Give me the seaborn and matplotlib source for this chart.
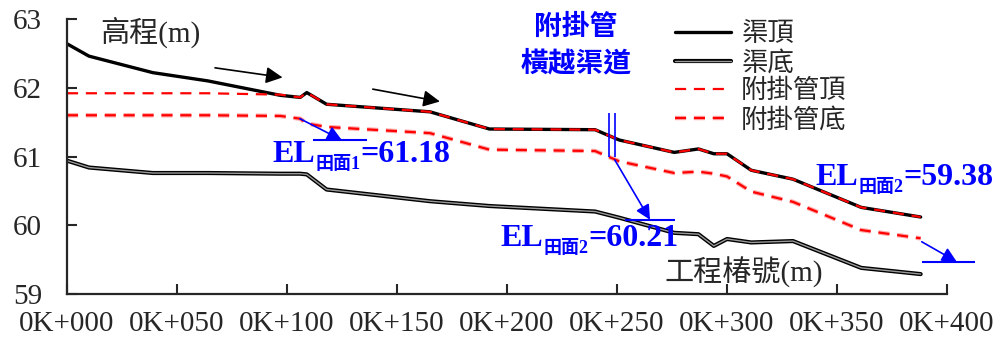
import matplotlib
matplotlib.use("Agg")
import matplotlib.pyplot as plt
import matplotlib.patheffects as pe
import seaborn as sns

# 樁號 (m) 與高程 (m)
station = [0, 10, 39, 64, 97, 106, 109, 118, 165, 192, 240, 251, 276, 287, 294, 300, 311, 330, 361, 388]
canal_top = [62.64, 62.46, 62.22, 62.10, 61.89, 61.86, 61.93, 61.76, 61.65, 61.40, 61.39, 61.24,
             61.06, 61.11, 61.04, 61.04, 60.80, 60.67, 60.26, 60.12]
canal_bottom = [60.94, 60.84, 60.76, 60.76, 60.75, 60.75, 60.74, 60.52, 60.35, 60.28, 60.20, 60.11,
                59.89, 59.87, 59.70, 59.80, 59.75, 59.77, 59.38, 59.29]
pipe_top = [61.92, 61.92, 61.92, 61.92, 61.90, 61.86, 61.93, 61.76, 61.65, 61.40, 61.39, 61.24,
            61.06, 61.11, 61.04, 61.04, 60.80, 60.67, 60.26, 60.12]
pipe_bottom = [61.60, 61.60, 61.60, 61.60, 61.59, 61.55, 61.48, 61.43, 61.34, 61.10, 61.08, 60.93,
               60.76, 60.78, 60.75, 60.71, 60.49, 60.34, 59.93, 59.81]

xticks = [0, 50, 100, 150, 200, 250, 300, 350, 400]
xtick_labels = ['0K+000', '0K+050', '0K+100', '0K+150', '0K+200', '0K+250', '0K+300', '0K+350', '0K+400']
yticks = [59, 60, 61, 62, 63]

sns.set_style('ticks')
plt.rcParams['font.family'] = ['Liberation Serif', 'Noto Sans CJK TC']

fig = plt.figure(figsize=(9.95, 3.47), dpi=100)
ax = fig.add_axes([0.0673, 0.1527, 0.8845, 0.7925])

# 渠頂、渠底
sns.lineplot(x=station, y=canal_top, color='black', lw=2.4, label='渠頂', ax=ax)
sns.lineplot(x=station, y=canal_bottom, color='#9a9a9a', lw=1.0, label='渠底', ax=ax,
             path_effects=[pe.Stroke(linewidth=3.0, foreground='black'), pe.Normal()])
# 附掛管
sns.lineplot(x=station, y=pipe_top, color='red', lw=1.6, linestyle=(0, (5, 3.5)),
             label='附掛管頂', ax=ax)
sns.lineplot(x=station, y=pipe_bottom, color='red', lw=1.6, linestyle=(0, (5, 3.5)),
             label='附掛管底', ax=ax,
             path_effects=[pe.Stroke(linewidth=3.2, foreground='#ffaaaa'), pe.Normal()])

ax.set_xlim(0, 400)
ax.set_ylim(59, 63)
ax.set_xticks(xticks)
ax.set_xticklabels(xtick_labels)
ax.set_yticks(yticks)
ax.set_xlabel('')
ax.set_ylabel('')
ax.tick_params(direction='in', length=7, width=1.5, labelsize=21)
ax.tick_params(axis='x', pad=12)
ax.tick_params(axis='y', pad=18)
for s in ['top', 'right']:
    ax.spines[s].set_visible(False)
for s in ['left', 'bottom']:
    ax.spines[s].set_linewidth(1.6)

ax.legend(loc='upper left', bbox_to_anchor=(0.679, 1.027), frameon=False, fontsize=19,
          handlelength=2.1, handletextpad=0.4, labelspacing=0.15, borderaxespad=0)

# 軸標題
ax.text(37.7, 62.81, '高程(m)', ha='center', va='center', fontsize=21)
ax.text(307.7, 59.32, '工程椿號(m)', ha='center', va='center', fontsize=21)

# 流向箭頭
ax.annotate('', xy=(98, 62.15), xytext=(67.3, 62.29),
            arrowprops=dict(arrowstyle='-|>', color='black', lw=1.2, mutation_scale=25,
                            shrinkA=0, shrinkB=0))
ax.annotate('', xy=(169.5, 61.80), xytext=(139, 61.98),
            arrowprops=dict(arrowstyle='-|>', color='black', lw=1.2, mutation_scale=25,
                            shrinkA=0, shrinkB=0))

# 附掛管橫越渠道
ax.text(231.4, 62.87, '附掛管', ha='center', va='center', fontsize=20, fontweight='bold', color='blue')
ax.text(231.4, 62.35, '橫越渠道', ha='center', va='center', fontsize=20, fontweight='bold', color='blue')
ax.vlines([246.4, 249], 60.99, 61.63, color='blue', lw=1.2)


def el_label(x, y, sub, val):
    t1 = ax.text(x, y, 'EL', color='blue', fontsize=23, fontweight='bold', va='baseline', ha='left')
    t2 = ax.annotate(sub, xy=(1, 0), xycoords=t1, xytext=(0.5, -3), textcoords='offset points',
                     fontsize=13, fontweight='bold', color='blue', va='bottom', ha='left')
    ax.annotate('=' + val, xy=(1, 0), xycoords=(t2, t1), fontsize=23, fontweight='bold',
                color='blue', va='bottom', ha='left')


def el_arrow(start, tip, x1, x2, y):
    ax.annotate('', xy=tip, xytext=start, annotation_clip=False,
                arrowprops=dict(arrowstyle='-|>', color='blue', lw=1.2, mutation_scale=22,
                                shrinkA=0, shrinkB=0))
    ax.hlines(y, x1, x2, color='blue', lw=1.5, clip_on=False)


el_arrow((105.9, 61.55), (124.9, 61.24), 111.8, 136.4, 61.24)
el_arrow((249, 60.95), (265, 60.08), 253.6, 276.4, 60.07)
el_arrow((388.5, 59.76), (404.4, 59.47), 388.5, 412.7, 59.46)

el_label(93.2, 60.92, '田面1', '61.18')
el_label(196.8, 59.70, '田面2', '60.21')
el_label(340, 60.59, '田面2', '59.38')

fig.savefig('out.png', dpi=100)
